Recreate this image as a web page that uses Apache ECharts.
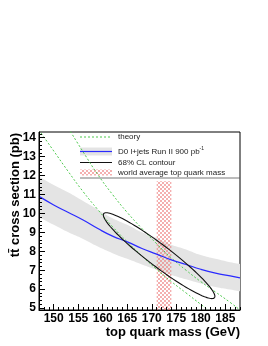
<!DOCTYPE html>
<html><head><meta charset="utf-8">
<script src="https://cdn.jsdelivr.net/npm/echarts@6/dist/echarts.min.js"></script>
<style>html,body{margin:0;padding:0;background:#fff}#c{width:268px;height:346px}</style>
</head><body><div id="c"></div>
<script>
// ---- data ----
const mass        = [147, 150, 153, 156, 159, 162, 165, 168, 171, 174, 177, 180, 183, 186, 188];
const measured    = [10.9, 10.45, 10.05, 9.65, 9.2, 8.8, 8.5, 8.15, 7.85, 7.55, 7.3, 7.05, 6.85, 6.7, 6.6];
const bandUpper   = [11.95, 11.5, 11.1, 10.65, 10.2, 9.75, 9.4, 9.0, 8.7, 8.35, 8.1, 7.8, 7.6, 7.42, 7.33];
const bandLower   = [9.8, 9.4, 9.0, 8.65, 8.25, 7.9, 7.6, 7.3, 7.02, 6.75, 6.52, 6.3, 6.12, 5.98, 5.88];
const theoryLowMass  = [147, 150, 153, 156, 159, 162, 165, 168, 171, 174, 177, 180, 181.5];
const theoryLow      = [14.4, 13.3, 12.2, 11.15, 10.2, 9.3, 8.5, 7.75, 7.05, 6.4, 5.8, 5.2, 4.9];
const theoryHighMass = [153, 156, 159, 162, 165, 168, 171, 174, 177, 180, 183, 186, 188];
const theoryHigh     = [14.5, 13.25, 12.05, 11.0, 10.05, 9.2, 8.4, 7.65, 7.0, 6.4, 5.85, 5.3, 4.9];
const worldAvgRange  = [171.0, 174.0];
const worldAvgTop    = 11.7;
const ellipseCenter  = [171.5, 7.77];
const ellipseTip     = [182.8, 5.55];
const ellipseHalfChord = 0.72;   // pb, vertical half-width at centre
const xMajorTicks = [150, 155, 160, 165, 170, 175, 180, 185];
const yMajorTicks = [5, 6, 7, 8, 9, 10, 11, 12, 13, 14];
const xMin = 147, xMax = 188, yMin = 4.9, yMax = 14.3;
const legendLabels = ['theory', 'D0 l+jets Run II 900 pb', '68% CL contour', 'world average top quark mass'];

const xMinorTicks = []; for (let v = 147; v <= 188; v++) xMinorTicks.push(v);
const yMinorTicks = []; for (let k = 50; k <= 142; k += 2) yMinorTicks.push(k / 10);

const FONT = "'Liberation Sans', Arial, Helvetica, sans-serif";
const pc = document.createElement('canvas'); pc.width = 4; pc.height = 4;
const g = pc.getContext('2d'); g.fillStyle = 'rgba(235,110,110,0.55)';
g.fillRect(0, 0, 2, 2); g.fillRect(2, 2, 2, 2);
const hatch = { image: pc, repeat: 'repeat' };

const chart = echarts.init(document.getElementById('c'), null, { renderer: 'canvas' });
const pairs = (xs, ys) => xs.map((x, i) => [x, ys[i]]);
// y first so that stacking acts on the cross-section dimension
const pairsYX = (xs, ys) => xs.map((x, i) => [ys[i], x]);

const baseX = { type: 'value', min: xMin, max: xMax, splitLine: { show: false } };
const baseY = { type: 'value', min: yMin, max: yMax, splitLine: { show: false } };

chart.setOption({
  animation: false,
  grid: { left: 39, top: 132, width: 201, height: 178, show: true, borderColor: '#000', borderWidth: 1, backgroundColor: 'transparent' },
  xAxis: [
    Object.assign({}, baseX, {
      position: 'bottom', z: 10,
      axisLine: { show: true, lineStyle: { color: '#000', width: 1 } },
      axisTick: { show: true, inside: true, length: 6, customValues: xMajorTicks, lineStyle: { color: '#000' } },
      axisLabel: { show: true, customValues: xMajorTicks, margin: 3, color: '#000', fontFamily: FONT, fontWeight: 'bold', fontSize: 12 }
    }),
    Object.assign({}, baseX, {
      position: 'bottom', z: 10,
      axisLine: { show: false },
      axisTick: { show: true, inside: true, length: 3, customValues: xMinorTicks, lineStyle: { color: '#000' } },
      axisLabel: { show: false }
    })
  ],
  yAxis: [
    Object.assign({}, baseY, {
      position: 'left', z: 10,
      axisLine: { show: true, lineStyle: { color: '#000', width: 1 } },
      axisTick: { show: true, inside: true, length: 6, customValues: yMajorTicks, lineStyle: { color: '#000' } },
      axisLabel: { show: true, customValues: yMajorTicks, margin: 3, color: '#000', fontFamily: FONT, fontWeight: 'bold', fontSize: 12 }
    }),
    Object.assign({}, baseY, {
      position: 'left', z: 10,
      axisLine: { show: false },
      axisTick: { show: true, inside: true, length: 3, customValues: yMinorTicks, lineStyle: { color: '#000' } },
      axisLabel: { show: false }
    })
  ],
  series: [
    { type: 'line', name: 'bandLow', stack: 'band', data: pairsYX(mass, bandLower), encode: { x: 1, y: 0 }, smooth: true, symbol: 'none',
      lineStyle: { width: 0, opacity: 0 }, z: 1 },
    { type: 'line', name: 'band', stack: 'band', data: pairsYX(mass, bandUpper.map((u, i) => u - bandLower[i])), encode: { x: 1, y: 0 }, smooth: true, symbol: 'none',
      lineStyle: { width: 0, opacity: 0 }, areaStyle: { color: '#e4e4e4', opacity: 1 }, z: 1 },
    { type: 'custom', name: 'world', data: [[worldAvgRange[0], worldAvgTop]], z: 2, clip: true,
      renderItem: function (params, api) {
        const p1 = api.coord([worldAvgRange[0], worldAvgTop]);
        const p2 = api.coord([worldAvgRange[1], yMin]);
        return { type: 'rect', shape: { x: p1[0], y: p1[1], width: p2[0] - p1[0], height: p2[1] - p1[1] }, style: { fill: hatch } };
      } },
    { type: 'line', name: 'theoryLow', data: pairs(theoryLowMass, theoryLow), smooth: true, symbol: 'none', z: 3,
      lineStyle: { color: '#4fc94f', width: 1, type: [2, 2] } },
    { type: 'line', name: 'theoryHigh', data: pairs(theoryHighMass, theoryHigh), smooth: true, symbol: 'none', z: 3,
      lineStyle: { color: '#4fc94f', width: 1, type: [2, 2] } },
    { type: 'line', name: 'measured', data: pairs(mass, measured), smooth: true, symbol: 'none', z: 4,
      lineStyle: { color: '#2a2aff', width: 1.2 } },
    { type: 'custom', name: 'contour', data: [ellipseCenter], z: 5, clip: true,
      renderItem: function (params, api) {
        if (params.dataIndex !== 0) return;
        const c = api.coord(ellipseCenter), t = api.coord(ellipseTip);
        const w = api.coord([ellipseCenter[0], ellipseCenter[1] + ellipseHalfChord]);
        const dx = t[0] - c[0], dy = t[1] - c[1];
        const a = Math.hypot(dx, dy), th = Math.atan2(dy, dx);
        const hc = c[1] - w[1];
        const b = hc * Math.cos(th) / Math.sqrt(1 - Math.pow(hc * Math.sin(th) / a, 2));
        const pts = [];
        for (let k = 0; k < 120; k++) {
          const ph = 2 * Math.PI * k / 120;
          pts.push([c[0] + a * Math.cos(ph) * Math.cos(th) - b * Math.sin(ph) * Math.sin(th),
                    c[1] + a * Math.cos(ph) * Math.sin(th) + b * Math.sin(ph) * Math.cos(th)]);
        }
        return { type: 'polygon', shape: { points: pts }, style: { fill: 'none', stroke: '#111', lineWidth: 1.1 } };
      } }
  ],
  graphic: [
    { type: 'text', x: 240, y: 332, style: { text: 'top quark mass (GeV)', fill: '#000', font: 'bold 13px ' + FONT, align: 'right', verticalAlign: 'middle' } },
    { type: 'text', x: 15, y: 133, rotation: Math.PI / 2, style: { text: 't\u0074\u0304 cross section (pb)', fill: '#000', font: 'bold 13px ' + FONT, align: 'right', verticalAlign: 'middle' } },
    // legend box
    { type: 'line', shape: { x1: 80, y1: 178, x2: 240, y2: 178 }, style: { stroke: '#555', lineWidth: 0.8 } },
    { type: 'line', shape: { x1: 80, y1: 137, x2: 112, y2: 137 }, style: { stroke: '#4fc94f', lineWidth: 1, lineDash: [2, 2] } },
    { type: 'rect', shape: { x: 80, y: 147.5, width: 32, height: 8 }, style: { fill: '#e4e4e4' } },
    { type: 'line', shape: { x1: 80, y1: 151.5, x2: 112, y2: 151.5 }, style: { stroke: '#2a2aff', lineWidth: 1.2 } },
    { type: 'line', shape: { x1: 80, y1: 162.5, x2: 112, y2: 162.5 }, style: { stroke: '#111', lineWidth: 1 } },
    { type: 'rect', shape: { x: 80, y: 169.5, width: 32, height: 6 }, style: { fill: hatch } },
    { type: 'text', x: 118, y: 137, style: { text: legendLabels[0], fill: '#222', font: '8px ' + FONT, verticalAlign: 'middle' } },
    { type: 'text', x: 118, y: 151.5, style: { text: '{a|' + legendLabels[1] + '}{s|-1}', fill: '#222', verticalAlign: 'middle',
        rich: { a: { fontSize: 8, fontFamily: FONT, fill: '#222' }, s: { fontSize: 5, fontFamily: FONT, fill: '#222', verticalAlign: 'top', padding: [0, 0, 6, 0] } } } },
    { type: 'text', x: 118, y: 162.5, style: { text: legendLabels[2], fill: '#222', font: '8px ' + FONT, verticalAlign: 'middle' } },
    { type: 'text', x: 118, y: 172.5, style: { text: legendLabels[3], fill: '#222', font: '8px ' + FONT, verticalAlign: 'middle' } }
  ]
});
</script></body></html>
